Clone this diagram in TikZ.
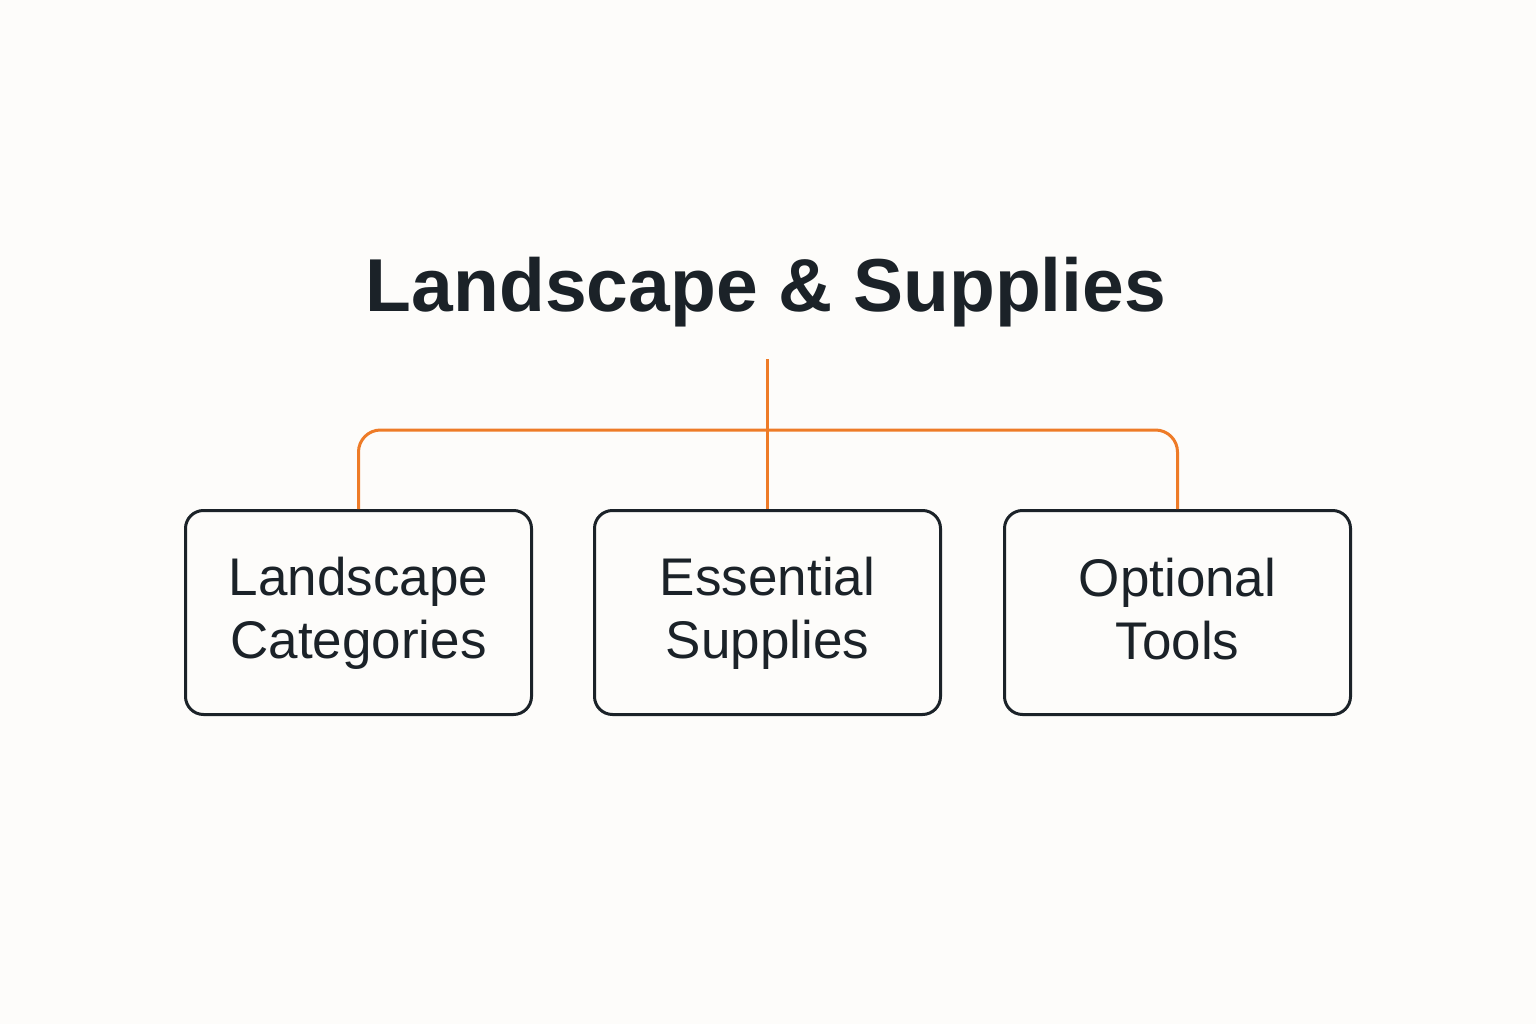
\documentclass[tikz,border=0pt]{standalone}
\usepackage{fontspec}
\setmainfont{Liberation Sans}
\definecolor{ink}{HTML}{1B2228}
\definecolor{branch}{HTML}{EE7B27}
\definecolor{paper}{HTML}{FDFCFA}
\newcommand{\linestrut}{\rule[-10pt]{0pt}{50pt}}
\tikzset{
    box/.style = {draw = ink, line width = 3pt, rounded corners = 18pt, minimum width = 346pt,
        minimum height = 204pt, inner sep = 0pt, align = center, text = ink,
        font = \fontsize{53}{63}\selectfont},
    link/.style = {draw = branch, line width = 3pt}
}
\begin{document}
\begin{tikzpicture}[x = 1pt, y = -1pt]
        \fill[paper] (0, 0) rectangle (1536, 1024);
        \useasboundingbox (0, 0) rectangle (1536, 1024);
        \node[text = ink, font = \fontsize{75}{80}\selectfont\bfseries] (title) at (766, 292) {Landscape \& Supplies};
        \node[box] (cat) at (358.5, 612.5) {Landscape\linestrut\\Categories\linestrut};
        \node[box] (sup) at (767.5, 612.5) {Essential\linestrut\\Supplies\linestrut};
        \node[box] (tools) at (1177.5, 612.5) {Optional\linestrut\\Tools\linestrut};
        \coordinate (top) at (767.5, 359);
        \coordinate (bar) at (767.5, 430);
        \draw[link] (top) -- (sup.north);
        \draw[link, rounded corners = 22pt] (cat.north) |- (bar) -| (tools.north);
        \end{tikzpicture}
\end{document}
